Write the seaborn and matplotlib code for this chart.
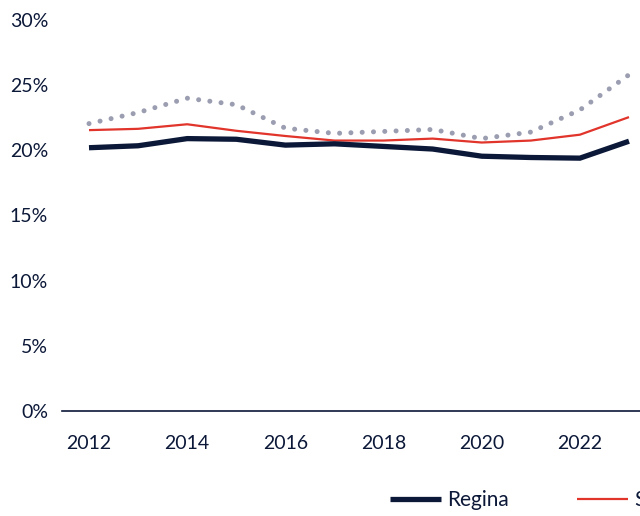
import matplotlib
matplotlib.use("Agg")
import matplotlib.pyplot as plt
import seaborn as sns
import pandas as pd
from matplotlib.ticker import FuncFormatter

years = list(range(2012, 2024))
regina = [20.2, 20.35, 20.9, 20.85, 20.4, 20.5, 20.3, 20.1, 19.55, 19.45, 19.4, 20.7]
saskatchewan = [21.55, 21.65, 22.0, 21.5, 21.1, 20.75, 20.75, 20.9, 20.6, 20.75, 21.2, 22.55]
canada = [22.05, 22.9, 24.0, 23.5, 21.7, 21.3, 21.45, 21.6, 20.9, 21.4, 23.1, 25.8]
series_names = ["Regina", "Saskatchewan", "Canada"]
yticks = [0, 5, 10, 15, 20, 25, 30]
xticks = [2012, 2014, 2016, 2018, 2020, 2022]

navy = "#0c1838"
red = "#e1342b"
gray = "#9b9db1"

sns.set_theme(style="white")
plt.rcParams["font.family"] = ["Lato", "DejaVu Sans"]

fig = plt.figure(figsize=(6.4, 5.16), dpi=100)
ax = fig.add_axes([62/640, 1-411/516, (656-62)/640, (411-20)/516])

df = pd.DataFrame({"year": years, "Regina": regina,
                   "Saskatchewan": saskatchewan, "Canada": canada})

sns.lineplot(data=df, x="year", y="Canada", ax=ax, color=gray, lw=3.6,
             linestyle=(0, (0.01, 2.25)), dash_capstyle="round", label=series_names[2])
sns.lineplot(data=df, x="year", y="Saskatchewan", ax=ax, color=red, lw=1.6,
             solid_capstyle="butt", label=series_names[1])
sns.lineplot(data=df, x="year", y="Regina", ax=ax, color=navy, lw=3.8,
             solid_capstyle="butt", solid_joinstyle="miter", label=series_names[0])

ax.set_xlim(2011.45, 2023.55)
ax.set_ylim(0, 30)
ax.set_xticks(xticks)
ax.set_yticks(yticks)
ax.yaxis.set_major_formatter(FuncFormatter(lambda v, p: f"{v:.0f}%"))
ax.set_xlabel("")
ax.set_ylabel("")
for s in ["left", "right", "top"]:
    ax.spines[s].set_visible(False)
ax.spines["bottom"].set_color(navy)
ax.spines["bottom"].set_linewidth(1.2)
ax.tick_params(axis="both", length=0, labelsize=14, labelcolor=navy)
ax.tick_params(axis="y", pad=10)
ax.tick_params(axis="x", pad=17)
ax.grid(False)

handles, labels = ax.get_legend_handles_labels()
order = [labels.index(n) for n in series_names]
ax.get_legend().remove()
fig.legend([handles[i] for i in order], [labels[i] for i in order],
           loc="center left", bbox_to_anchor=(390/640, 1-500/516), ncol=3,
           frameon=False, fontsize=15, labelcolor=navy, borderpad=0,
           borderaxespad=0, handlelength=2.45, handletextpad=0.3,
           columnspacing=3.25)

fig.savefig("out.png", dpi=100)
